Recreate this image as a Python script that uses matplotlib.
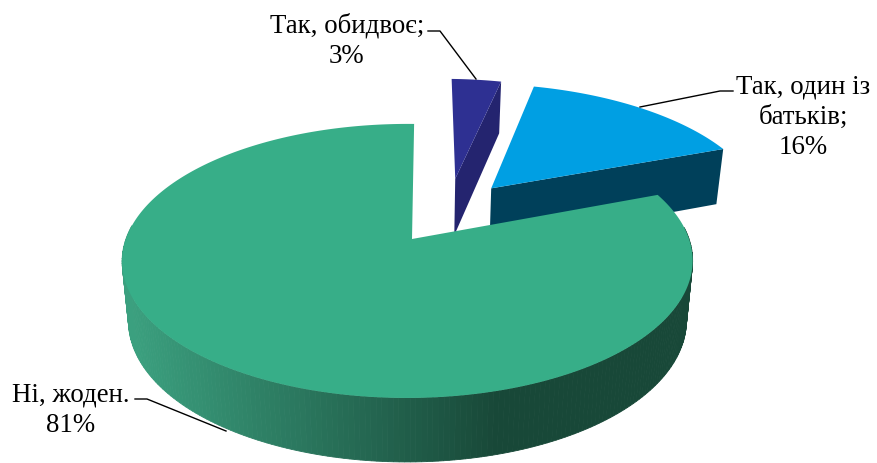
import numpy as np
from matplotlib import pyplot as plt
from matplotlib.patches import Polygon

plt.rcParams['font.family'] = ['Liberation Serif', 'DejaVu Sans']

# shares, the labels show them rounded
shares = [3.5, 15.6, 80.9]
labels = ['Так, обидвоє;\n3%', 'Так, один із\nбатьків;\n16%', 'Ні, жоден.\n81%']
topColors = ['#2e3092', '#009fe3', '#37ae88']
wallColors = ['#24246f', '#00405a', '#184838']

# pie offsets on the unit disc and slice sizes, found by eye
offsets = [(0.166, 0.488), (0.301, 0.406), (0.0, 0.0)]
sizes = [1.0, 1.03, 1.0]
firstAngle = 0.5

# pixel coordinates of the picture
apexX = 412
apexY = 240
radius = 281.5
squash = 133.5
perspY = 0.16
perspX = 0.016


def project(u, v, bottom=False):
    s = 1 / (1 + perspY * v + perspX * u)
    x = radius * u * s
    y = squash * v * s
    if bottom:
        return apexX + x * 0.978, apexY - y + 59 - 5 * v
    return apexX + x, apexY - y


def sliceArc(start, end, off, size):
    # angles go clockwise from 12 o'clock
    t = np.radians(np.linspace(start, end, 300))
    return off[0] + size * np.sin(t), off[1] + size * np.cos(t)


fig = plt.figure(figsize=(8.78, 4.64), dpi=100)
ax = fig.add_axes([0, 0, 1, 1])
ax.set_xlim(0, 878)
ax.set_ylim(464, 0)
ax.axis('off')

angles = firstAngle + np.concatenate([[0], np.cumsum(shares)]) * 3.6

# the two small slices, only their cut face on the right shows
for i in [0, 1]:
    off = offsets[i]
    u, v = sliceArc(angles[i], angles[i + 1], off, sizes[i])
    endX, endY = project(u[-1], v[-1])
    endX2, endY2 = project(u[-1], v[-1], True)
    midX, midY = project(off[0], off[1])
    midX2, midY2 = project(off[0], off[1], True)
    ax.add_patch(Polygon([(endX, endY), (endX2, endY2), (midX2, midY2), (midX, midY)],
                         color=wallColors[i], lw=0))
    x, y = project(u, v)
    pts = np.column_stack([np.append(x, midX), np.append(y, midY)])
    ax.add_patch(Polygon(pts, color=topColors[i], lw=0))

# outer wall of the big slice, shade goes with x
u, v = sliceArc(angles[2], angles[3], offsets[2], sizes[2])
x, y = project(u, v)
x2, y2 = project(u, v, True)
lightWall = np.array([0x3b, 0xa0, 0x7f]) / 255
darkWall = np.array([0x18, 0x48, 0x38]) / 255
for k in range(len(x) - 1):
    # back part of the rim is hidden
    if v[k] > 0.1:
        continue
    mix = np.clip((x[k] - 130) / 370, 0, 1)
    c = lightWall + (darkWall - lightWall) * mix
    ax.add_patch(Polygon([(x[k], y[k]), (x[k + 1], y[k + 1]), (x2[k + 1], y2[k + 1]), (x2[k], y2[k])],
                         facecolor=c, edgecolor=c, lw=0.6))

midX, midY = project(offsets[2][0], offsets[2][1])
pts = np.column_stack([np.append(x, midX), np.append(y, midY)])
ax.add_patch(Polygon(pts, color=topColors[2], lw=0))

# leader lines
ax.plot([428, 440, 476], [32, 32, 80], color='black', lw=1)
ax.plot([733, 720, 640], [92, 92, 108], color='black', lw=1)
ax.plot([135, 147, 226], [400, 400, 432], color='black', lw=1)

ax.text(347, 41, labels[0], ha='center', va='center', fontsize=19.4, color='black', linespacing=1.27)
ax.text(803, 117, labels[1], ha='center', va='center', fontsize=19.4, color='black', linespacing=1.27)
ax.text(71, 410, labels[2], ha='center', va='center', fontsize=19.4, color='black', linespacing=1.27)

plt.savefig('out.png', dpi=100)
